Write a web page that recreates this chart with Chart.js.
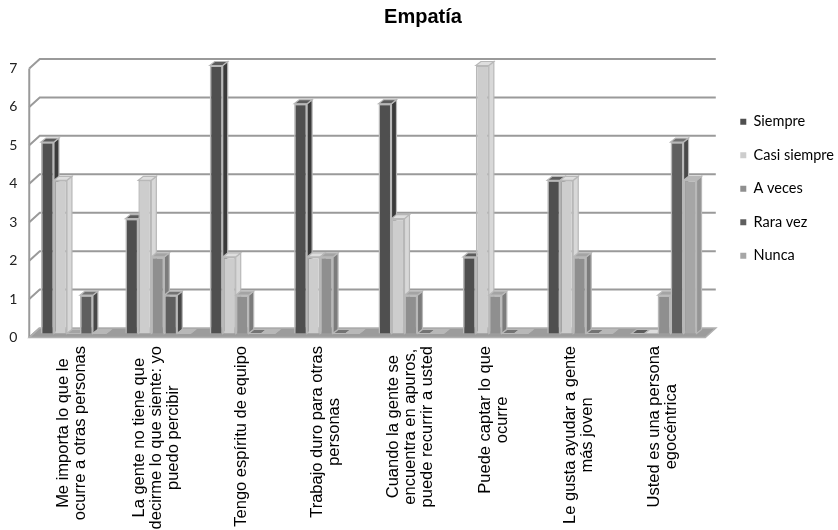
<!DOCTYPE html>
<html><head><meta charset="utf-8">
<style>html,body{margin:0;padding:0;background:#fff}#w{width:838px;height:530px}</style>
<script src="https://cdn.jsdelivr.net/npm/chart.js@4"></script></head>
<body><div id="w"><canvas id="c"></canvas></div>
<script>
const categories=[
 ["Me importa lo que le","ocurre a otras personas"],
 ["La gente no tiene que","decirme lo que siente: yo","puedo percibir"],
 ["Tengo espíritu de equipo"],
 ["Trabajo duro para otras","personas"],
 ["Cuando la gente se","encuentra en apuros,","puede recurrir a usted"],
 ["Puede captar lo que","ocurre"],
 ["Le gusta ayudar a gente","más joven"],
 ["Usted es una persona","egocéntrica"]];
const siempre=[5,3,7,6,6,2,4,0];
const casiSiempre=[4,4,2,2,3,7,4,0];
const aVeces=[0,2,1,2,1,1,2,1];
const raraVez=[1,1,0,0,0,0,0,5];
const nunca=[0,0,0,0,0,0,0,4];
const seriesNames=["Siempre","Casi siempre","A veces","Rara vez","Nunca"];
const seriesColors=["#4f4f4f","#cdcdcd","#8f8f8f","#5f5f5f","#a6a6a6"];
const sideColors=["#3a3a3a","#d8d8d8","#7c7c7c","#484848","#959595"];
const topColors=["#5c5c5c","#dedede","#a4a4a4","#737373","#b8b8b8"];
const seriesValues=[siempre,casiSiempre,aVeces,raraVez,nunca];
const DX=5,DY=4,EDGE="#b8b8b8";
const LABEL_FONT="16.5px 'Liberation Sans'",LABEL_PITCH=17,LABEL_TOP=346;
const legendShift={x:15,y:95.5};
const titleShift=8.5;
const depth3d={id:'depth3d',
 afterLayout(ch){
  const l=ch.legend;
  l.left+=legendShift.x;l.right+=legendShift.x;
  l.top+=legendShift.y;l.bottom+=legendShift.y;
  const t=ch.titleBlock;
  t.left+=titleShift;t.right+=titleShift;
 },
 beforeDatasetsDraw(ch){
  const c=ch.ctx,yF=ch.scales.yFront,a=ch.chartArea;
  const fl=a.left-2,fr=a.right-1,bx=10.5,by=9.5,y0=yF.getPixelForValue(0);
  c.save();
  c.lineCap='butt';
  // gridlines and wall
  c.strokeStyle='#9a9a9a';c.lineWidth=2;
  c.beginPath();c.moveTo(fl,y0);c.lineTo(fl,yF.getPixelForValue(7));c.stroke();
  for(const t of yF.ticks){
   const y=yF.getPixelForValue(t.value);
   c.beginPath();c.moveTo(fl,y);c.lineTo(fl+bx,y-by);
   if(t.value>0)c.lineTo(fr+bx,y-by);
   c.stroke();
  }
  // floor
  c.beginPath();c.moveTo(fl,y0);c.lineTo(fr,y0);c.lineTo(fr+bx,y0-by);c.lineTo(fl+bx,y0-by);c.closePath();
  c.fillStyle='#9c9c9c';c.fill();
  c.strokeStyle='#b0b0b0';c.lineWidth=1.5;c.stroke();
  // bar depth faces, left to right
  ch.getDatasetMeta(0).data.forEach((_,i)=>{
   seriesValues.forEach((s,d)=>{
    const b=ch.getDatasetMeta(d).data[i];
    const l=b.x-b.width/2,r=b.x+b.width/2,t=b.y,bt=b.base;
    c.lineWidth=1.2;c.strokeStyle=EDGE;
    c.fillStyle=sideColors[d];
    c.beginPath();c.moveTo(r,t);c.lineTo(r+DX,t-DY);c.lineTo(r+DX,bt-DY);c.lineTo(r,bt);c.closePath();c.fill();c.stroke();
    c.fillStyle=topColors[d];
    c.beginPath();c.moveTo(l,t);c.lineTo(l+DX,t-DY);c.lineTo(r+DX,t-DY);c.lineTo(r,t);c.closePath();c.fill();c.stroke();
   });
  });
  c.restore();
 },
 afterDraw(ch){
  // category labels: rotated, each line centred on the block's longest line
  const c=ch.ctx,x=ch.scales.x;
  c.save();c.font=LABEL_FONT;c.fillStyle='#000';c.textAlign='center';c.textBaseline='middle';
  x.ticks.forEach((t,i)=>{
   const lines=[].concat(t.label);
   const w=Math.max(...lines.map(s=>c.measureText(s).width));
   c.save();
   c.translate(x.getPixelForTick(i)-1,LABEL_TOP+w/2);
   c.rotate(-Math.PI/2);
   lines.forEach((s,k)=>c.fillText(s,0,(k-(lines.length-1)/2)*LABEL_PITCH));
   c.restore();
  });
  c.restore();
 }};
new Chart(document.getElementById('c'),{
 type:'bar',
 data:{labels:categories,datasets:seriesNames.map((n,i)=>({label:n,data:seriesValues[i],yAxisID:'yBars',
  backgroundColor:seriesColors[i],borderColor:EDGE,borderWidth:1.5,clip:false,
  categoryPercentage:0.769,barPercentage:1}))},
 plugins:[depth3d],
 options:{responsive:true,maintainAspectRatio:false,animation:false,
  layout:{padding:{left:0,top:0,right:9,bottom:0}},
  plugins:{
   tooltip:{enabled:false},
   title:{display:true,text:"Empatía",color:'#000',font:{family:"'Liberation Sans'",size:20,weight:'bold'},padding:{top:5,bottom:39.5}},
   legend:{position:'right',align:'start',labels:{boxWidth:6,boxHeight:6,padding:19,color:'#222',font:{family:"Lato",size:14.5},
     generateLabels(ch){return seriesNames.map((n,i)=>({text:n,fillStyle:seriesColors[i],strokeStyle:EDGE,lineWidth:0,datasetIndex:i}));}}}
  },
  scales:{
   x:{grid:{display:false},border:{display:false},ticks:{display:false,autoSkip:false},
      afterFit(s){s.height=192.5;}},
   yFront:{position:'left',min:0,max:7,grid:{display:false},border:{display:false},
      ticks:{stepSize:1,padding:6,color:'#222',font:{family:"Lato",size:14}},
      afterFit(s){s.width=31.25;}},
   yBars:{display:false,min:-0.1045,max:6.921}
  }
 }
});
</script></body></html>
